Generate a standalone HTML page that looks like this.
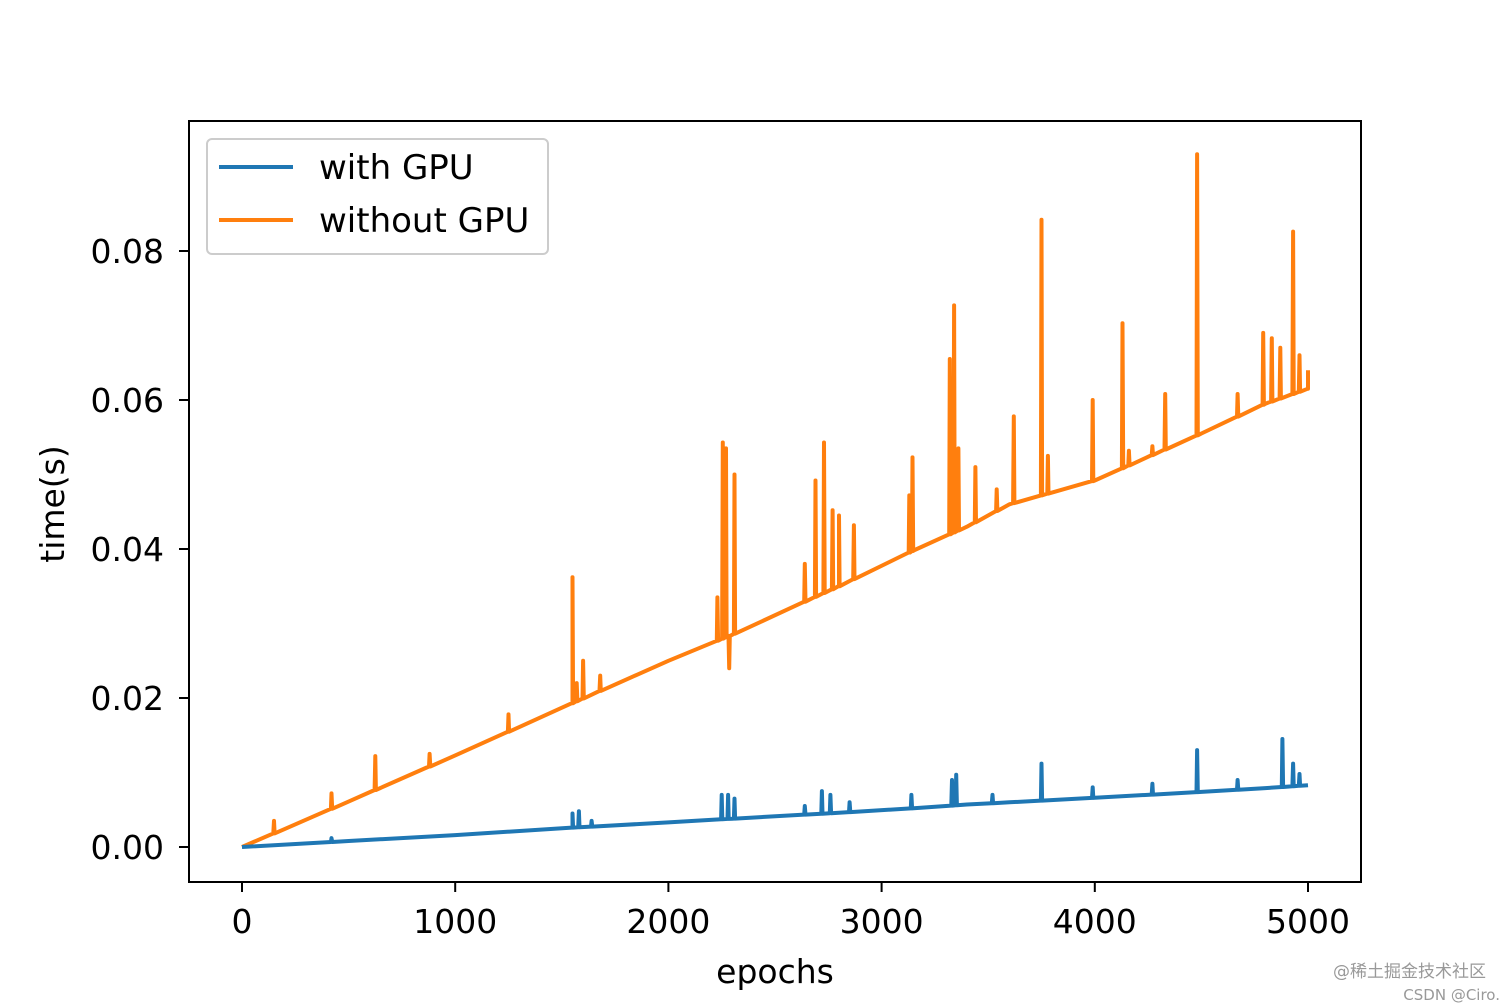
<!DOCTYPE html>
<html><head><meta charset="utf-8"><style>
body{margin:0;background:#fff;width:1512px;height:1008px;overflow:hidden}
svg{display:block}
text{font-family:"DejaVu Sans","Liberation Sans",sans-serif}
</style></head><body>
<svg id="c" width="1512" height="1008"></svg>
<script>
const xTicks=[0,1000,2000,3000,4000,5000];
const yTicks=[0,0.02,0.04,0.06,0.08];
const yTickLabels=["0.00","0.02","0.04","0.06","0.08"];
const trendEpochs=[0,500,1000,1550,2000,2300,2800,3150,3400,3600,4000,4500,4800,5000];
const gpuTrend=[0,0.0008,0.0016,0.0026,0.0033,0.0038,0.0046,0.0052,0.0057,0.006,0.0066,0.0074,0.0079,0.0083];
const cpuTrend=[0,0.0061,0.0123,0.0193,0.025,0.0285,0.035,0.0398,0.043,0.046,0.0492,0.0555,0.0595,0.0615];
const cpuSpikeEpochs=[150,420,625,880,1250,1550,1570,1600,1680,2230,2255,2270,2285,2310,2640,2690,2730,2770,2800,2870,3130,3145,3320,3340,3360,3440,3540,3620,3750,3780,3990,4130,4160,4270,4330,4480,4670,4790,4830,4870,4930,4960,5000];
const cpuSpikeValues=[0.0035,0.0072,0.0122,0.0125,0.0178,0.0362,0.022,0.025,0.023,0.0335,0.0543,0.0535,0.024,0.050,0.038,0.0492,0.0543,0.0452,0.0445,0.0432,0.0472,0.0523,0.0655,0.0727,0.0535,0.051,0.048,0.0578,0.0842,0.0525,0.0600,0.0703,0.0532,0.0538,0.0608,0.0930,0.0608,0.0690,0.0683,0.0670,0.0826,0.0660,0.0640];
const gpuSpikeEpochs=[420,1550,1580,1640,2250,2280,2310,2640,2720,2760,2850,3140,3330,3350,3520,3750,3990,4270,4480,4670,4880,4930,4960];
const gpuSpikeValues=[0.0012,0.0045,0.0048,0.0035,0.007,0.007,0.0065,0.0055,0.0075,0.007,0.006,0.007,0.009,0.0097,0.007,0.0112,0.008,0.0085,0.0130,0.0090,0.0145,0.0112,0.0098];

const X0=242,X1=1308,Y0=847,Y8=251;
const sx=v=>X0+(X1-X0)*v/5000;
const sy=v=>Y0-(Y0-Y8)*v/0.08;
const NS="http://www.w3.org/2000/svg";
const svg=document.getElementById('c');
function mk(t,a,p){const e=document.createElementNS(NS,t);for(const k in a)e.setAttribute(k,a[k]);(p||svg).appendChild(e);return e;}
function interp(ex,ev,x){for(let i=1;i<ex.length;i++){if(x<=ex[i]){const t=(x-ex[i-1])/(ex[i]-ex[i-1]);return ev[i-1]+t*(ev[i]-ev[i-1]);}}return ev[ev.length-1];}
function build(trend,se,sv){
  const pts=[];
  trendEpochs.forEach((e,i)=>pts.push([e,trend[i]]));
  se.forEach((e,i)=>{const b=interp(trendEpochs,trend,e);pts.push([e-3,b]);pts.push([e,sv[i]]);pts.push([e+3,b]);});
  pts.sort((a,b)=>a[0]-b[0]);
  return pts.filter(p=>p[0]>=0&&p[0]<=5000).map(p=>sx(p[0]).toFixed(1)+","+sy(p[1]).toFixed(1)).join(" ");
}
const frame=mk('rect',{x:189,y:121,width:1172,height:761,fill:'none',stroke:'#000','stroke-width':2});

const cpu=mk('polyline',{points:build(cpuTrend,cpuSpikeEpochs,cpuSpikeValues),fill:'none',stroke:'#ff7f0e','stroke-width':4,'stroke-linejoin':'round'});

const gpu=mk('polyline',{points:build(gpuTrend,gpuSpikeEpochs,gpuSpikeValues),fill:'none',stroke:'#1f77b4','stroke-width':4,'stroke-linejoin':'round'});

xTicks.forEach(v=>{
  const l=mk('line',{x1:sx(v),x2:sx(v),y1:882,y2:892,stroke:'#000','stroke-width':2});
  
  const t=mk('text',{x:sx(v),y:933,'font-size':33,'text-anchor':'middle'});t.textContent=v;
  
});
yTicks.forEach((v,i)=>{
  const l=mk('line',{x1:179,x2:189,y1:sy(v),y2:sy(v),stroke:'#000','stroke-width':2});
  
  const t=mk('text',{x:164,y:sy(v)+12,'font-size':33,'text-anchor':'end'});t.textContent=yTickLabels[i];
  
});
const xl=mk('text',{x:775,y:983,'font-size':33,'text-anchor':'middle'});xl.textContent='epochs';

const yl=mk('text',{x:0,y:0,'font-size':33,'text-anchor':'middle',transform:'translate(64,504) rotate(-90)'});yl.textContent='time(s)';

const lg=mk('g',{});

mk('rect',{x:207,y:139,width:341,height:115,rx:5,fill:'#fff','fill-opacity':0.8,stroke:'#ccc','stroke-width':2},lg);
[['with GPU','#1f77b4',167],['without GPU','#ff7f0e',220]].forEach(([n,c,y])=>{
  const l=mk('line',{x1:219,x2:293,y1:y,y2:y,stroke:c,'stroke-width':4},lg);
  
  const t=mk('text',{x:319,y:y+12,'font-size':34},lg);t.textContent=n;
  
});
const w1=mk('text',{x:1486,y:977,'font-size':17,fill:'#999','text-anchor':'end','font-family':'"Liberation Sans","Noto Sans CJK SC",sans-serif'});w1.textContent='@稀土掘金技术社区';

const w2=mk('text',{x:1500,y:1000,'font-size':15,fill:'#999','text-anchor':'end','font-family':'"Liberation Sans",sans-serif'});w2.textContent='CSDN @Ciro.';

</script>
</body></html>
